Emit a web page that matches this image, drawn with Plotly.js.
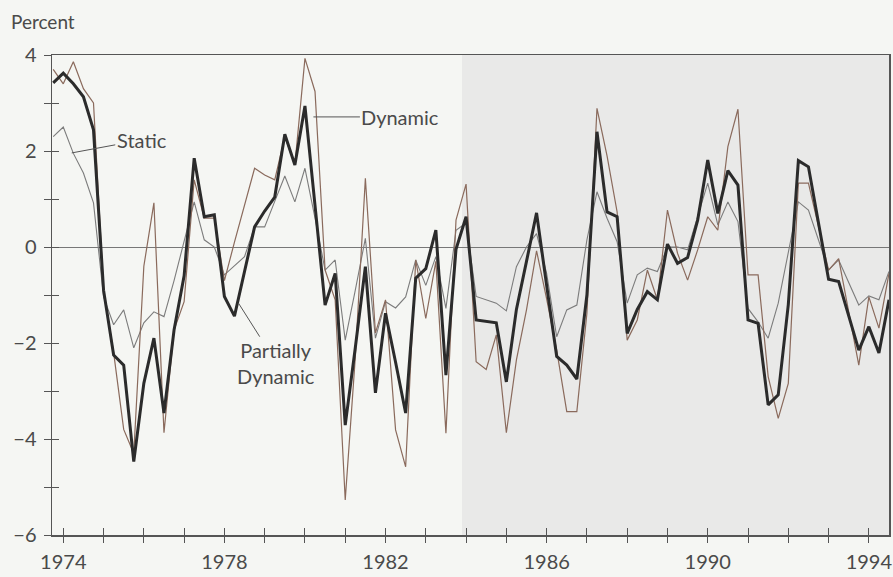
<!DOCTYPE html>
<html>
<head>
<meta charset="utf-8">
<script src="https://cdn.plot.ly/plotly-3.0.1.min.js"></script>
<style>
  html, body { margin: 0; padding: 0; background: #f5f6f3; }
  #chart { width: 893px; height: 577px; }
</style>
</head>
<body>
<div id="chart"></div>
<script>
// Quarterly observations, first quarter plotted at 1973.75
const startYear = 1973.75;
const quarterStep = 0.25;

const partiallyDynamic = [
  3.42, 3.62, 3.40, 3.13, 2.44, -0.90, -2.25, -2.46, -4.47, -2.84,
  -1.90, -3.46, -1.73, -0.60, 1.85, 0.63, 0.67, -1.03, -1.44, -0.54,
  0.42, 0.75, 1.04, 2.35, 1.71, 2.94, 0.90, -1.21, -0.55, -3.71,
  -2.10, -0.41, -3.04, -1.38, -2.40, -3.46, -0.65, -0.45, 0.35, -2.67,
  -0.05, 0.63, -1.52, -1.55, -1.58, -2.81, -1.30, -0.30, 0.71, -0.80,
  -2.28, -2.46, -2.75, -1.00, 2.40, 0.73, 0.63, -1.80, -1.30, -0.93,
  -1.10, 0.06, -0.34, -0.22, 0.56, 1.81, 0.70, 1.59, 1.29, -1.52,
  -1.59, -3.29, -3.08, -1.20, 1.80, 1.67, 0.50, -0.67, -0.72, -1.43,
  -2.15, -1.66, -2.21, -1.10
];

const dynamic = [
  3.70, 3.40, 3.86, 3.30, 3.00, -0.90, -2.20, -3.80, -4.30, -0.40,
  0.92, -3.87, -1.73, -1.14, 1.40, 0.60, 0.60, -0.70, 0.10, 0.90,
  1.64, 1.50, 1.40, 2.30, 1.71, 3.93, 3.24, -0.48, -1.10, -5.27,
  -2.30, 1.43, -1.79, -1.10, -3.81, -4.58, -0.27, -1.49, -0.30, -3.88,
  0.56, 1.31, -2.39, -2.55, -1.83, -3.87, -2.35, -1.31, -0.08, -1.08,
  -2.15, -3.43, -3.43, -1.38, 2.89, 1.90, 0.73, -1.94, -1.52, -0.48,
  -1.10, 0.77, -0.13, -0.69, -0.06, 0.63, 0.35, 2.09, 2.87, -0.58,
  -0.58, -2.70, -3.57, -2.84, 1.33, 1.33, 0.40, -0.48, -0.24, -1.35,
  -2.46, -1.04, -1.69, -0.55
];

const staticModel = [
  2.30, 2.50, 1.95, 1.54, 0.92, -1.04, -1.62, -1.31, -2.10, -1.58,
  -1.35, -1.45, -0.70, 0.10, 0.94, 0.15, 0.00, -0.58, -0.40, -0.20,
  0.42, 0.42, 0.95, 1.48, 0.94, 1.64, 0.60, -0.48, -0.27, -1.94,
  -0.90, 0.18, -1.90, -1.14, -1.27, -1.04, -0.27, -0.80, -0.20, -1.28,
  0.35, 0.50, -1.03, -1.10, -1.17, -1.33, -0.41, 0.00, 0.28, -0.55,
  -1.87, -1.31, -1.21, 0.15, 1.15, 0.60, 0.11, -1.17, -0.58, -0.44,
  -0.51, 0.00, 0.00, -0.06, 0.63, 1.33, 0.46, 0.94, 0.53, -1.28,
  -1.56, -1.90, -1.17, -0.10, 0.94, 0.77, 0.15, -0.48, -0.27, -0.75,
  -1.21, -1.02, -1.10, -0.51
];

const yearTickVals = [1974,1975,1976,1977,1978,1979,1980,1981,1982,1983,1984,
                      1985,1986,1987,1988,1989,1990,1991,1992,1993,1994];
const yearTickLabels = ['1974','','','','1978','','','','1982','','','',
                        '1986','','','','1990','','','','1994'];
const percentTickVals = [-6,-5,-4,-3,-2,-1,0,1,2,3,4];
const percentTickLabels = ['\u22126','','\u22124','','\u22122','','0','','2','','4'];
const shadeStart = 1983.9;   // start of the shaded (later) period

const xs = partiallyDynamic.map((_, i) => startYear + quarterStep * i);

const xRange = [1973.72, 1994.5];
const yRange = [-6, 4];
const FONT = 'Lato, "Open Sans", sans-serif';
const TXT = '#4a4a4a';

const traces = [
  { x: xs, y: staticModel, type: 'scatter', mode: 'lines', name: 'Static',
    line: { color: '#7c7c7c', width: 1.1 }, hoverinfo: 'skip' },
  { x: xs, y: dynamic, type: 'scatter', mode: 'lines', name: 'Dynamic',
    line: { color: '#8a6a5c', width: 1.2 }, hoverinfo: 'skip' },
  { x: xs, y: partiallyDynamic, type: 'scatter', mode: 'lines', name: 'Partially Dynamic',
    line: { color: '#2b2b2b', width: 3 }, hoverinfo: 'skip' },
  // invisible trace on overlay axes so the inner ticks are drawn
  { x: [xRange[0]], y: [yRange[0]], xaxis: 'x2', yaxis: 'y2', type: 'scatter',
    mode: 'markers', marker: { opacity: 0 }, showlegend: false, hoverinfo: 'skip' }
];

const layout = {
  width: 893, height: 577,
  margin: { l: 52, r: 4, t: 55, b: 42 },
  paper_bgcolor: '#f5f6f3',
  plot_bgcolor: '#f5f6f3',
  showlegend: false,
  font: { family: FONT, color: TXT, size: 20 },
  xaxis: {
    range: xRange, tickmode: 'array', tickvals: yearTickVals, ticktext: yearTickLabels,
    ticks: 'outside', ticklen: 6, tickwidth: 1, tickcolor: '#555',
    showline: true, linecolor: '#555', linewidth: 1.5, mirror: true,
    showgrid: false, zeroline: false, ticklabelstandoff: 2,
    tickfont: { family: FONT, size: 20, color: TXT }
  },
  yaxis: {
    range: yRange, tickmode: 'array', tickvals: percentTickVals, ticktext: percentTickLabels,
    ticks: 'outside', ticklen: 7, tickwidth: 1, tickcolor: '#555',
    showline: true, linecolor: '#555', linewidth: 1.5, mirror: true,
    showgrid: false, zeroline: true, zerolinecolor: '#777', zerolinewidth: 1,
    ticklabelstandoff: 3,
    tickfont: { family: FONT, size: 20, color: TXT }
  },
  xaxis2: {
    overlaying: 'x', range: xRange, tickmode: 'array', tickvals: yearTickVals,
    ticks: 'inside', ticklen: 7, tickwidth: 1, tickcolor: '#555',
    showticklabels: false, showline: false, showgrid: false, zeroline: false, side: 'bottom'
  },
  yaxis2: {
    overlaying: 'y', range: yRange, tickmode: 'array', tickvals: percentTickVals,
    ticks: 'inside', ticklen: 7, tickwidth: 1, tickcolor: '#555',
    showticklabels: false, showline: false, showgrid: false, zeroline: false, side: 'left'
  },
  shapes: [
    { type: 'rect', xref: 'x', yref: 'paper', x0: shadeStart, x1: xRange[1], y0: 0, y1: 1,
      fillcolor: '#e9e9e8', line: { width: 0 }, layer: 'below' }
  ],
  annotations: [
    { text: 'Percent', xref: 'paper', yref: 'paper', x: -0.051, y: 1.07,
      xanchor: 'left', yanchor: 'middle', showarrow: false,
      font: { family: FONT, size: 19, color: TXT } },
    { text: 'Static', xref: 'x', yref: 'y', x: 1974.21, y: 1.96,
      ax: 70, ay: -13, showarrow: true, arrowhead: 0, arrowwidth: 1, arrowcolor: '#555',
      font: { family: FONT, size: 20, color: TXT } },
    { text: 'Dynamic', xref: 'x', yref: 'y', x: 1980.21, y: 2.71,
      ax: 87, ay: 0, showarrow: true, arrowhead: 0, arrowwidth: 1, arrowcolor: '#555',
      font: { family: FONT, size: 20, color: TXT } },
    { text: 'Partially<br>Dynamic', xref: 'x', yref: 'y', x: 1978.35, y: -1.17,
      ax: 38, ay: 60, showarrow: true, arrowhead: 0, arrowwidth: 1, arrowcolor: '#555',
      font: { family: FONT, size: 20, color: TXT } }
  ]
};

Plotly.newPlot('chart', traces, layout, { staticPlot: true, displayModeBar: false });
</script>
</body>
</html>
